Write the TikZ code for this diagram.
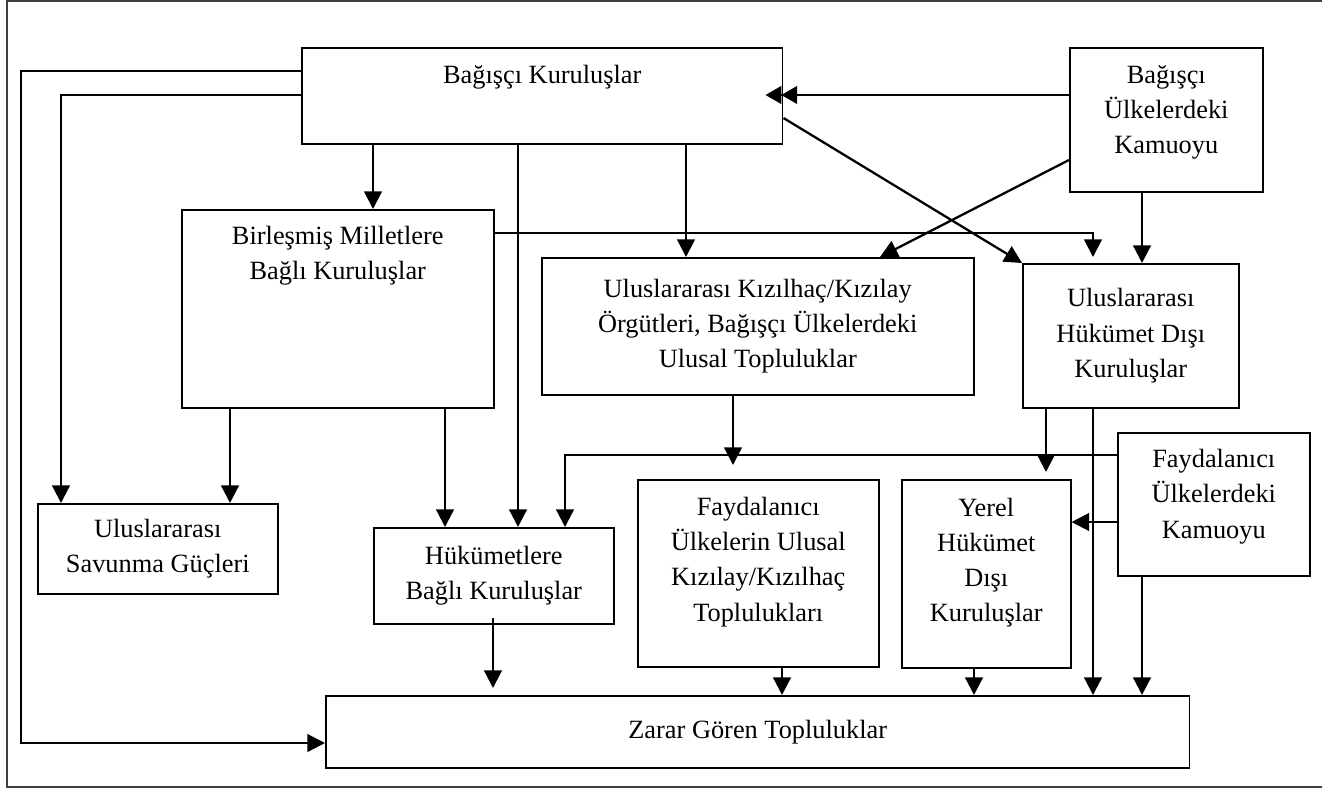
\documentclass[tikz,border=0pt]{standalone}
\usepackage{fontspec}
\setmainfont{Liberation Serif}
\usepackage{tikz}
\usetikzlibrary{arrows.meta, positioning}

\begin{document}
\begin{tikzpicture}[x=0.02cm, y=-0.02cm,
    box/.style={draw, line width=0.9pt, anchor=north west, align=center, inner sep=0pt, font=\fontsize{15}{20}\selectfont},
    wh/.style 2 args={minimum width=#1cm, minimum height=#2cm},
    arr/.style={line width=1.3pt, -{Triangle[length=10pt, width=10pt]}},
    arrtwo/.style={line width=1.3pt, -{Triangle[length=9pt, width=10pt] Triangle[length=9pt, width=10pt]}}]
        \clip (0,0) rectangle (1322,789);
        \draw[line width=1pt, black!75] (7,1) rectangle (1340,787);

        \node (bk) [box, wh={9.62}{1.92}] at (301,47) {Bağışçı Kuruluşlar\\[4pt]\mbox{}};
        \node (bukam) [box, wh={3.86}{2.88}] at (1069,47) {Bağışçı\\Ülkelerdeki\\Kamuoyu\\[-8pt]\mbox{}};
        \node (bm) [box, wh={6.24}{3.96}] at (181,209) {Birleşmiş Milletlere\\Bağlı Kuruluşlar\\[44pt]\mbox{}};
        \node (ukk) [box, wh={8.64}{2.74}] at (541,257) {Uluslararası Kızılhaç/Kızılay\\Örgütleri, Bağışçı Ülkelerdeki\\Ulusal Topluluklar};
        \node (uhdk) [box, wh={4.32}{2.88}] at (1022,263) {Uluslararası\\Hükümet Dışı\\Kuruluşlar};
        \node (usg) [box, wh={4.80}{1.80}] at (37,503) {Uluslararası\\Savunma Güçleri};
        \node (hbk) [box, wh={4.80}{1.92}] at (373,527) {Hükümetlere\\Bağlı Kuruluşlar};
        \node (fuk) [box, wh={4.82}{3.74}] at (637,479) {Faydalanıcı\\Ülkelerin Ulusal\\Kızılay/Kızılhaç\\Toplulukları\\[-4pt]\mbox{}};
        \node (yk) [box, wh={3.38}{3.76}] at (901,479) {Yerel\\Hükümet\\Dışı\\Kuruluşlar\\[-4pt]\mbox{}};
        \node (fukam) [box, wh={3.84}{2.86}] at (1117,432) {Faydalanıcı\\Ülkelerdeki\\Kamuoyu\\[-8pt]\mbox{}};
        \node (zgt) [box, wh={17.28}{1.44}] at (325,695) {Zarar Gören Topluluklar};

        \draw[arr] (bk.west |- 0,71) -| (21,743) -- (zgt.west |- 0,743);
        \draw[arr] (bk.west |- 0,95) -| (usg.north -| 61,0);
        \draw[arr] (bk.south -| 373,0) -- (bm.north -| 373,0);
        \draw[arr] (bk.south -| 518,0) -- (hbk.north -| 518,0);
        \draw[arr] (bk.south -| 686,0) -- (ukk.north -| 686,0);
        \draw[arr] (bk.east |- 0,118) -- (uhdk.north west);
        \draw[arrtwo, shorten >=-0.36cm] (bukam.west |- 0,95) -- (bk.east |- 0,95);
        \draw[arr] (bukam.south -| 1142,0) -- (uhdk.north -| 1142,0);
        \draw[arr] (bukam.west |- 0,160) -- (ukk.north -| 880,0);
        \draw[arr, shorten >=0.12cm] (bm.east |- 0,233) -| (uhdk.north -| 1093,0);
        \draw[arr] (bm.south -| 230,0) -- (usg.north -| 230,0);
        \draw[arr] (bm.south -| 445,0) -- (hbk.north -| 445,0);
        \draw[arr, shorten >=0.28cm] (ukk.south -| 733,0) -- (fuk.north -| 733,0);
        \draw[arr] (fukam.west |- 0,455) -| (hbk.north -| 565,0);
        \draw[arr, shorten >=0.14cm] (uhdk.south -| 1046,0) -- (yk.north -| 1046,0);
        \draw[arr] (uhdk.south -| 1093,0) -- (zgt.north -| 1093,0);
        \draw[arr] (fukam.west |- 0,522) -- (yk.east |- 0,522);
        \draw[arr] (fukam.south -| 1142,0) -- (zgt.north -| 1142,0);
        \draw[arr] (yk.south -| 974,0) -- (zgt.north -| 974,0);
        \draw[arr] (fuk.south -| 782,0) -- (zgt.north -| 782,0);
        \draw[arr, shorten <=-0.14cm, shorten >=0.14cm] (hbk.south -| 493,0) -- (zgt.north -| 493,0);
    \end{tikzpicture}
\end{document}
